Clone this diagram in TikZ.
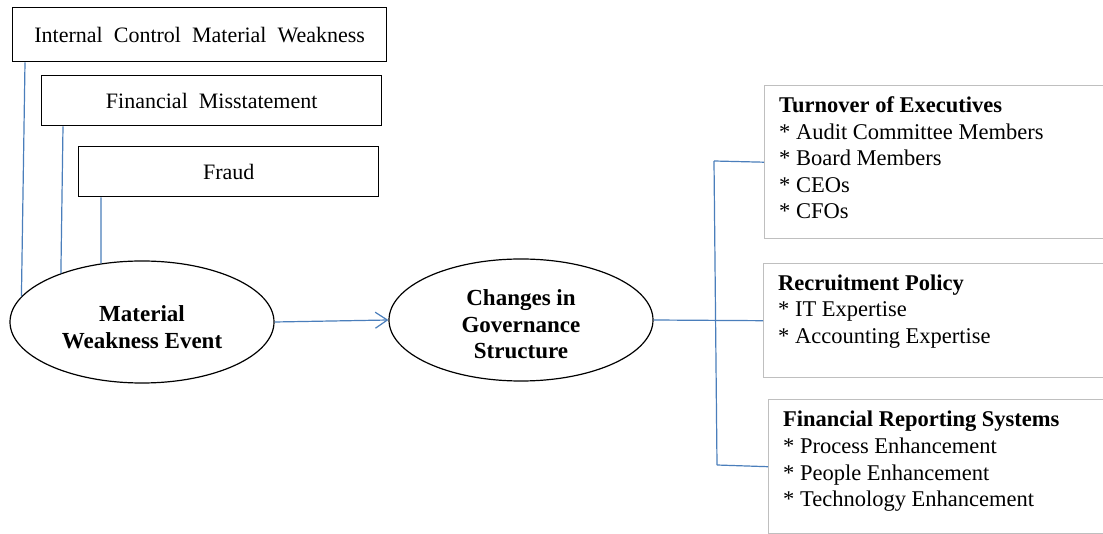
\documentclass[tikz,border=0pt]{standalone}
\usepackage{fontspec}
\setmainfont{Liberation Serif}
\usetikzlibrary{shapes.geometric,arrows.meta,calc}
\definecolor{linkblue}{HTML}{4A7EBB}
\definecolor{boxgray}{HTML}{BFBFBF}
\newcommand\widewords{\spaceskip=11pt plus 1pt minus 1pt\relax}
\begin{document}
\begin{tikzpicture}[x=1pt,y=-1pt,
  srcbox/.style={draw=black,line width=1.4pt,rectangle,inner sep=0pt,
    font=\fontsize{22}{26}\selectfont\widewords},
  event/.style={draw=black,line width=1.2pt,ellipse,inner sep=0pt,
    minimum width=264pt,minimum height=122pt},
  eventtext/.style={inner sep=0pt,align=center,
    font=\fontsize{23}{26.5}\selectfont\bfseries},
  outbox/.style={draw=boxgray,line width=1.4pt,rectangle,inner sep=0pt,anchor=north west},
  item/.style={anchor=base west,inner sep=0pt,font=\fontsize{22.5}{27}\selectfont},
  head/.style={item,font=\fontsize{22.5}{27}\selectfont\bfseries},
  link/.style={draw=linkblue,line width=1.2pt}
]
\clip (0,0) rectangle (1103,534);
\fill[white] (0,0) rectangle (1103,534);

% sources of a material weakness
\node[srcbox,minimum width=374pt,minimum height=54pt,anchor=north west] (icmw) at (12,7) {Internal Control Material Weakness};
\node[srcbox,minimum width=340pt,minimum height=50pt,anchor=north west] (fm) at (41,75) {Financial Misstatement};
\node[srcbox,minimum width=300pt,minimum height=50pt,anchor=north west] (fraud) at (78,146) {Fraud};

% the two events
\node[event] (mwe) at (142,322) {};
\node[eventtext] (mwet) at (142,327) {Material\\Weakness Event};
\node[event] (cgs) at (521,320) {};
\node[eventtext] (cgst) at (521,324.5) {Changes in\\Governance\\Structure};

% outcome boxes
\node[outbox,minimum width=350pt,minimum height=153pt] (exec) at (764,85) {};
\node[outbox,minimum width=350pt,minimum height=114pt] (rec) at (763,263) {};
\node[outbox,minimum width=350pt,minimum height=134pt] (frs) at (768,399) {};

% outcome texts
\node[head] (exec0) at (779,113) {Turnover of Executives};
\node[item] (exec1) at (779,139.5) {* Audit Committee Members};
\node[item] (exec2) at (779,166) {* Board Members};
\node[item] (exec3) at (779,192.5) {* CEOs};
\node[item] (exec4) at (779,219) {* CFOs};

\node[head] (rec0) at (778,291) {Recruitment Policy};
\node[item] (rec1) at (778,317) {* IT Expertise};
\node[item] (rec2) at (778,343.5) {* Accounting Expertise};

\node[head] (frs0) at (783,427) {Financial Reporting Systems};
\node[item] (frs1) at (783,453) {* Process Enhancement};
\node[item] (frs2) at (783,480) {* People Enhancement};
\node[item] (frs3) at (783,506) {* Technology Enhancement};

% connectors from the sources
\draw[link] ($(icmw.south west)+(13,0)$) -- (mwe.168.7);
\draw[link] ($(fm.south west)+(22,0)$) -- (mwe.149.7);
\draw[link] ($(fraud.south west)+(23,0)$) -- (mwe.125.7);

% main arrow
\draw[link,-{Straight Barb[length=12pt,width=16pt,line width=1.2pt]}] (mwe.east) -- (cgs.west);

% bracket to the outcomes
\coordinate (bt) at (714,161);
\coordinate (bb) at (717,465);
\draw[link] (bt) -- (bb);
\draw[link] (bt) -- (exec.west);
\draw[link] (bb) -- (frs.west);
\draw[link] (cgs.east) -- (rec.west);
\end{tikzpicture}
\end{document}
